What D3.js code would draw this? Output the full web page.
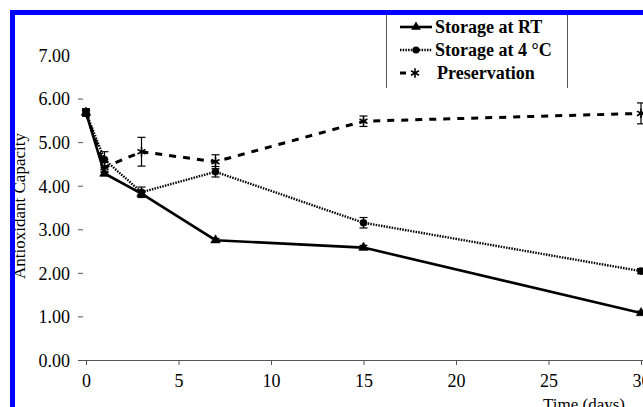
<!DOCTYPE html>
<html>
<head>
<meta charset="utf-8">
<script src="https://cdn.jsdelivr.net/npm/d3@7"></script>
<style>
  body { margin: 0; background: #fff; }
  svg { display: block; }
  svg text { font-family: "Liberation Serif", "Times New Roman", serif; }
</style>
</head>
<body>
<svg id="chart" width="643" height="407"></svg>
<script>
// data
var days = [0, 1, 3, 7, 15, 30];
var rtValues = [5.68, 4.28, 3.82, 2.75, 2.58, 1.08];
var rtErrors = [0.08, 0.05, 0.07, 0.04, 0.05, 0.04];
var coldValues = [5.68, 4.60, 3.85, 4.32, 3.15, 2.04];
var coldErrors = [0.08, 0.18, 0.12, 0.12, 0.12, 0.06];
var presValues = [5.68, 4.42, 4.78, 4.55, 5.48, 5.66];
var presErrors = [0.08, 0.12, 0.33, 0.16, 0.12, 0.24];
var yTicks = [0, 1, 2, 3, 4, 5, 6, 7];
var xTicks = [0, 5, 10, 15, 20, 25, 30];
var seriesNames = ['Storage at RT', 'Storage at 4 \u00b0C', 'Preservation'];

var serif = '"Liberation Serif", "Times New Roman", serif';
var svg = d3.select('#chart');

var x = d3.scaleLinear().domain([0, 30]).range([86, 641]);
var y = d3.scaleLinear().domain([0, 7]).range([360, 55]);

function toPoints(vals, errs) {
  return days.map(function(d, i) { return { day: d, v: vals[i], e: errs[i] }; });
}

var series = [
  { name: seriesNames[0], pts: toPoints(rtValues, rtErrors), dash: null, width: 2.6, sym: d3.symbolTriangle, size: 40, fill: true },
  { name: seriesNames[1], pts: toPoints(coldValues, coldErrors), dash: '1.5,1.2', width: 2.4, sym: d3.symbolCircle, size: 40, fill: true },
  { name: seriesNames[2], pts: toPoints(presValues, presErrors), dash: '7,7', width: 3, sym: d3.symbolAsterisk, size: 60, fill: false }
];

// x axis: line with downward ticks
var xAxis = svg.append('g').attr('transform', 'translate(0,360)')
  .call(d3.axisBottom(x).tickValues(xTicks).tickSize(5).tickPadding(6).tickSizeOuter(0))
  .attr('font-family', serif);
xAxis.select('.domain').attr('d', 'M78,0.5H643').attr('stroke', '#555');
xAxis.selectAll('.tick line').attr('stroke', '#555');
xAxis.selectAll('.tick text').attr('font-family', serif).attr('font-size', 18).attr('fill', '#000').attr('dy', '0.9em');

// y axis: labels and small dashes, no spine
var yAxis = svg.append('g').attr('transform', 'translate(83,0)')
  .call(d3.axisLeft(y).tickValues(yTicks).tickFormat(d3.format('.2f')).tickSize(5).tickPadding(8))
  .attr('font-family', serif);
yAxis.select('.domain').remove();
yAxis.selectAll('.tick line').attr('stroke', function(d) { return d === 7 || d === 0 ? 'none' : '#555'; });
yAxis.selectAll('.tick text').attr('font-family', serif).attr('font-size', 18).attr('fill', '#000').attr('dy', '0.35em');

svg.append('text')
  .attr('transform', 'translate(25,206) rotate(-90)')
  .attr('text-anchor', 'middle')
  .attr('font-size', 17)
  .text('Antioxidant Capacity');

svg.append('text')
  .attr('x', 584).attr('y', 410)
  .attr('text-anchor', 'middle')
  .attr('font-size', 17)
  .text('Time (days)');

var line = d3.line().x(function(d) { return x(d.day); }).y(function(d) { return y(d.v); });

series.forEach(function(s) {
  var g = svg.append('g');
  g.append('path').datum(s.pts)
    .attr('d', line)
    .attr('fill', 'none')
    .attr('stroke', '#000')
    .attr('stroke-width', s.width)
    .attr('stroke-dasharray', s.dash);

  var eb = g.selectAll('.eb').data(s.pts).enter().append('g');
  eb.append('line')
    .attr('x1', function(d) { return x(d.day); }).attr('x2', function(d) { return x(d.day); })
    .attr('y1', function(d) { return y(d.v - d.e); }).attr('y2', function(d) { return y(d.v + d.e); })
    .attr('stroke', '#000').attr('stroke-width', 1.2);
  [-1, 1].forEach(function(k) {
    eb.append('line')
      .attr('x1', function(d) { return x(d.day) - 4; }).attr('x2', function(d) { return x(d.day) + 4; })
      .attr('y1', function(d) { return y(d.v + k * d.e); }).attr('y2', function(d) { return y(d.v + k * d.e); })
      .attr('stroke', '#000').attr('stroke-width', 1.2);
  });

  g.selectAll('.mk').data(s.pts).enter().append('path')
    .attr('transform', function(d) { return 'translate(' + x(d.day) + ',' + y(d.v) + ')'; })
    .attr('d', d3.symbol().type(s.sym).size(s.size))
    .attr('fill', s.fill ? '#000' : 'none')
    .attr('stroke', '#000')
    .attr('stroke-width', s.fill ? 0.5 : 1.6);
});

// legend
var legend = svg.append('g');
legend.append('line').attr('x1', 386.5).attr('x2', 386.5).attr('y1', 14).attr('y2', 88).attr('stroke', '#555');
legend.append('line').attr('x1', 567.5).attr('x2', 567.5).attr('y1', 14).attr('y2', 88).attr('stroke', '#555');

var rowY = [27, 50, 73];
series.forEach(function(s, i) {
  var cy = rowY[i];
  if (i < 2) {
    legend.append('line').attr('x1', 400).attr('x2', 432).attr('y1', cy).attr('y2', cy)
      .attr('stroke', '#000').attr('stroke-width', s.width).attr('stroke-dasharray', s.dash);
    legend.append('path').attr('transform', 'translate(416,' + cy + ')')
      .attr('d', d3.symbol().type(s.sym).size(s.size)).attr('fill', '#000');
  } else {
    legend.append('line').attr('x1', 400).attr('x2', 406).attr('y1', cy).attr('y2', cy)
      .attr('stroke', '#000').attr('stroke-width', s.width);
    legend.append('path').attr('transform', 'translate(415,' + cy + ')')
      .attr('d', d3.symbol().type(s.sym).size(s.size)).attr('fill', 'none')
      .attr('stroke', '#000').attr('stroke-width', 1.6);
  }
  legend.append('text')
    .attr('x', i < 2 ? 435 : 437).attr('y', cy).attr('dy', '0.35em')
    .attr('font-size', 18).attr('font-weight', 'bold')
    .text(s.name);
});

// blue frame, cut off at right and bottom
svg.append('rect')
  .attr('x', 12.5).attr('y', 12.5).attr('width', 700).attr('height', 500)
  .attr('fill', 'none').attr('stroke', '#0000ff').attr('stroke-width', 5);
</script>
</body>
</html>
